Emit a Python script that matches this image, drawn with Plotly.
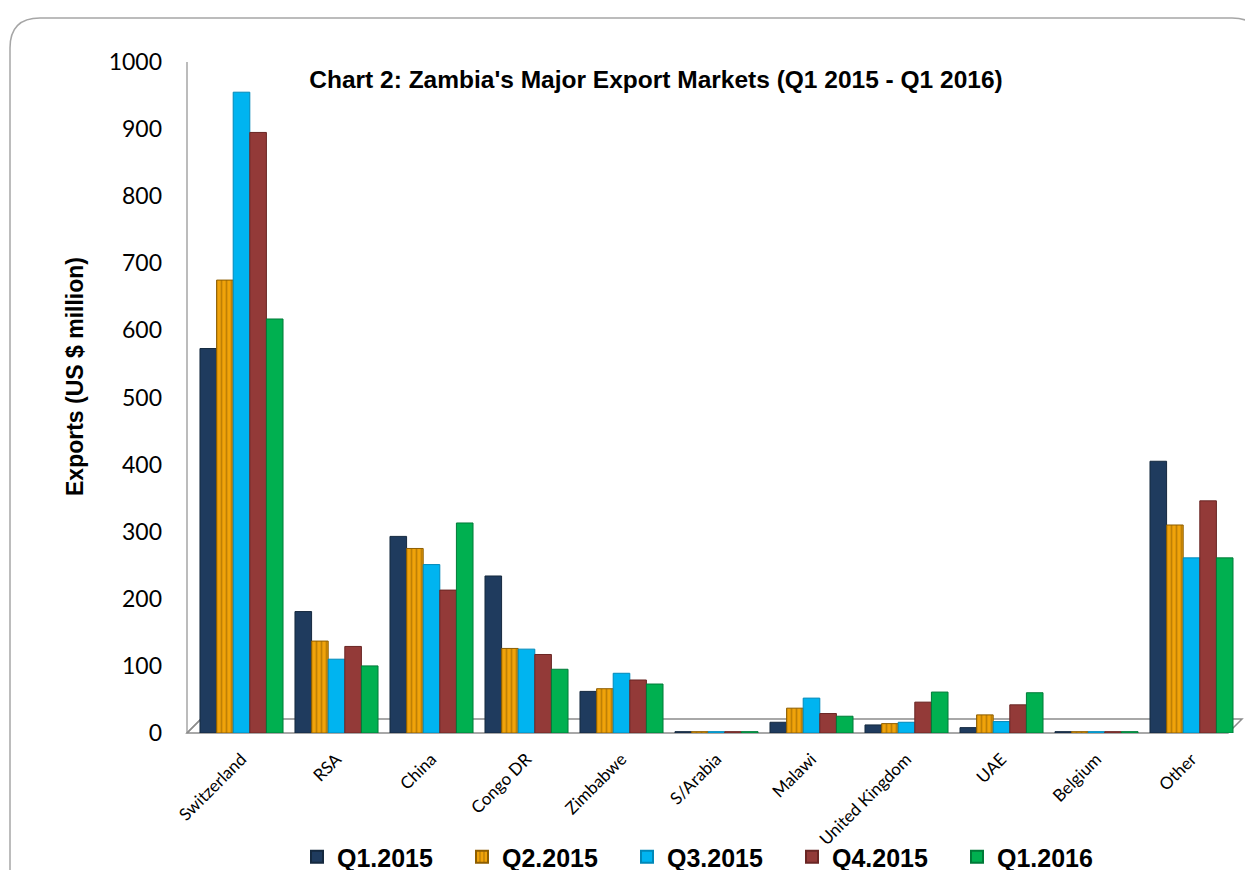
import plotly.graph_objects as go

categories = ["Switzerland", "RSA", "China", "Congo DR", "Zimbabwe", "S/Arabia",
              "Malawi", "United Kingdom", "UAE", "Belgium", "Other"]
q1_2015 = [573, 181, 293, 234, 62, 2, 16, 12, 8, 2, 405]
q2_2015 = [675, 137, 275, 126, 66, 2, 37, 14, 27, 2, 310]
q3_2015 = [955, 110, 251, 125, 89, 2, 52, 16, 17, 2, 261]
q4_2015 = [895, 129, 213, 117, 79, 2, 29, 46, 42, 2, 346]
q1_2016 = [617, 100, 313, 95, 73, 2, 25, 61, 60, 2, 261]

series_names = ["Q1.2015", "Q2.2015", "Q3.2015", "Q4.2015", "Q1.2016"]
series_values = [q1_2015, q2_2015, q3_2015, q4_2015, q1_2016]
colors = ["#1F3B5E", "#F0A30A", "#00B4F0", "#933A38", "#00B050"]
line_colors = ["#15293F", "#8E5E00", "#0088B8", "#6A2624", "#007A38"]

fig = go.Figure()
for i, (name, vals) in enumerate(zip(series_names, series_values)):
    marker = dict(color=colors[i], line=dict(color=line_colors[i], width=1))
    if name == "Q2.2015":
        marker["pattern"] = dict(shape="|", fgcolor="#8E5E00", bgcolor="#F0A30A",
                                 size=5, solidity=0.35, fillmode="overlay")
    fig.add_trace(go.Bar(x=categories, y=vals, name=f"<b>{name}</b>", marker=marker))

W, H = 1245, 870
L, R, T, B = 194, 6, 62, 137
pw, ph = W - L - R, H - T - B

def px(x):
    return (x - L) / pw

def py(y):
    return (H - B - y) / ph

# rounded card border
x0, x1, y0, y1, r = 10, 1262, 18, 895, 30
path = (f"M {px(x0)},{py(y1)} L {px(x0)},{py(y0 + r)} "
        f"Q {px(x0)},{py(y0)} {px(x0 + r)},{py(y0)} "
        f"L {px(x1 - r)},{py(y0)} Q {px(x1)},{py(y0)} {px(x1)},{py(y0 + r)} "
        f"L {px(x1)},{py(y1)} Z")
floor_col = "#8C8C8C"
shapes = [
    dict(type="path", xref="paper", yref="paper", path=path,
         line=dict(color="#A6A6A6", width=1.5), fillcolor="rgba(0,0,0,0)", layer="below"),
    # back wall edge
    dict(type="line", xref="paper", yref="paper", x0=px(187), x1=px(187),
         y0=py(733), y1=py(62), line=dict(color="#A6A6A6", width=1.5), layer="below"),
    # floor
    dict(type="path", xref="paper", yref="paper",
         path=(f"M {px(187)},{py(733)} L {px(1228)},{py(733)} L {px(1242)},{py(719)} "
               f"L {px(201)},{py(719)} Z"),
         line=dict(color=floor_col, width=1.5), fillcolor="rgba(255,255,255,0)", layer="below"),
    dict(type="line", xref="paper", yref="paper", x0=px(187), x1=px(201),
         y0=py(733), y1=py(719), line=dict(color=floor_col, width=1.5), layer="below"),
]

bold_font = "Liberation Sans, Arial, sans-serif"
fig.update_layout(
    width=W, height=H,
    margin=dict(l=L, r=R, t=T, b=B, autoexpand=False),
    paper_bgcolor="white", plot_bgcolor="white",
    barmode="group", bargap=0.126, bargroupgap=0.0,
    font=dict(family="Lato, Open Sans, sans-serif", color="black"),
    title=dict(text="<b>Chart 2: Zambia's Major Export Markets (Q1 2015 - Q1 2016)</b>",
               x=656 / W, xanchor="center", y=1 - 79 / H, yanchor="middle",
               font=dict(size=24.5, family=bold_font, color="black")),
    xaxis=dict(tickangle=-45, tickfont=dict(size=17), showline=False, ticks="",
               showgrid=False, automargin=False, ticklabelstandoff=12),
    yaxis=dict(range=[0, 1000], dtick=100, tickfont=dict(size=23), showgrid=False,
               zeroline=False, showline=False,
               ticks="", ticklen=0, automargin=False, ticklabelstandoff=31),
    annotations=[dict(text="<b>Exports (US $ million)</b>", textangle=-90,
                      xref="paper", yref="paper", x=px(75), y=py(377),
                      xanchor="center", yanchor="middle", showarrow=False,
                      font=dict(size=23, family=bold_font, color="black"))],
    legend=dict(orientation="h", x=px(297), xanchor="left", y=py(857), yanchor="middle",
                font=dict(size=25, family=bold_font, color="black"), entrywidth=120,
                entrywidthmode="pixels",
                bgcolor="rgba(0,0,0,0)", itemsizing="constant", traceorder="normal"),
    shapes=shapes,
)

fig.write_html("out.html", post_script="document.body.style.margin='0';",
               config={"displayModeBar": False})
